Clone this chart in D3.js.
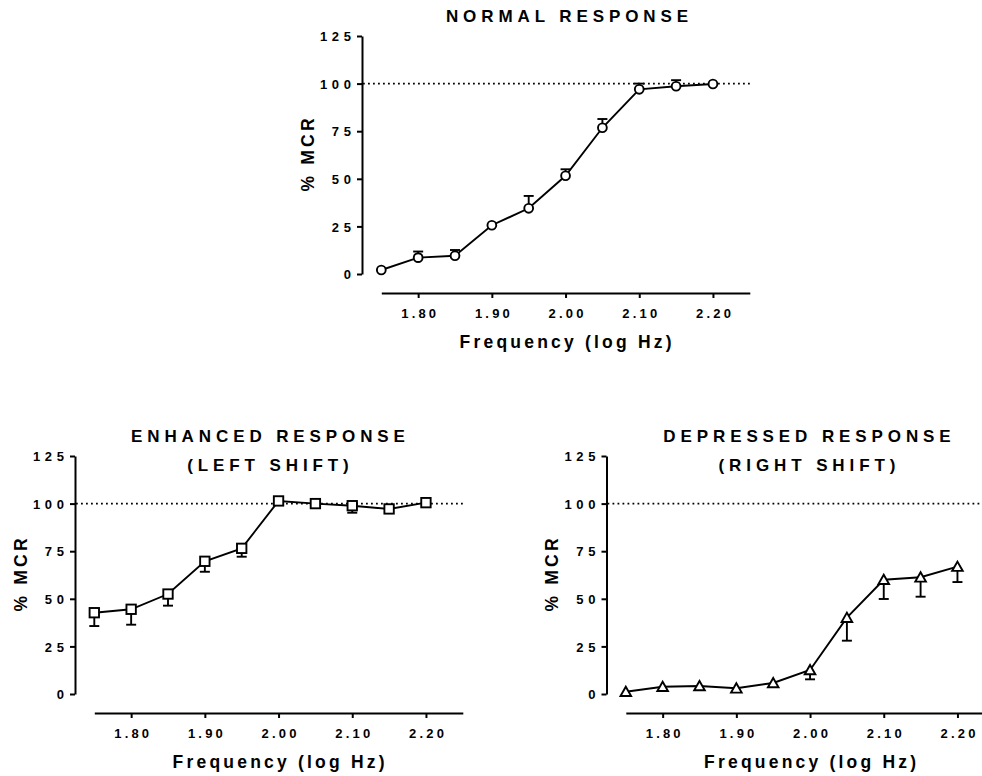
<!DOCTYPE html>
<html>
<head>
<meta charset="utf-8">
<script src="https://cdn.jsdelivr.net/npm/d3@7"></script>
<style>
  body { margin: 0; background: #fff; }
  text { font-family: "Liberation Sans", Arial, sans-serif; font-weight: bold; fill: #000; }
</style>
</head>
<body>
<svg id="chart" width="982" height="776"></svg>
<script>
// --- DATA ---
const freq = [1.75, 1.80, 1.85, 1.90, 1.95, 2.00, 2.05, 2.10, 2.15, 2.20];

// Normal response (error bars drawn upward)
const normalMean = [2.1, 8.6, 9.6, 25.6, 34.5, 51.6, 76.8, 97.0, 98.6, 99.8];
const normalErr  = [0, 3.2, 3.0, 0, 6.5, 3.4, 4.6, 3.0, 3.2, 0];

// Enhanced response / left shift (error bars drawn downward)
const enhancedMean = [42.7, 44.5, 52.5, 69.7, 76.5, 101.4, 100.0, 98.9, 97.2, 100.5];
const enhancedErr  = [7.0, 8.1, 6.1, 5.5, 4.4, 0, 0, 3.7, 0, 0];

// Depressed response / right shift (error bars drawn downward)
const depressedMean = [1.2, 3.8, 4.2, 3.0, 5.8, 12.6, 40.1, 60.0, 61.3, 66.9];
const depressedErr  = [0, 0, 0, 0, 0, 4.9, 12.1, 10.1, 10.2, 8.1];

const yTicks = [0, 25, 50, 75, 100, 125];
const xTicks = [1.80, 1.90, 2.00, 2.10, 2.20];
const xDomain = [1.75, 2.25];
const yDomain = [0, 125];
const refValue = 100;
const xLabel = "Frequency (log Hz)";
const yLabel = "% MCR";

// --- LAYOUT ---
const panels = [
    { title: ["NORMAL RESPONSE"], mean: normalMean, err: normalErr, dir: 1, marker: "circle", ox: 362, oy: 274, tx: 567 },
    { title: ["ENHANCED RESPONSE", "(LEFT SHIFT)"], mean: enhancedMean, err: enhancedErr, dir: -1, marker: "square", ox: 75, oy: 694, tx: 268 },
    { title: ["DEPRESSED RESPONSE", "(RIGHT SHIFT)"], mean: depressedMean, err: depressedErr, dir: -1, marker: "triangle", ox: 606.5, oy: 694, tx: 807 }
];

const svg = d3.select("#chart");
const plotH = 238, xGap = 19.3, xLen = 368.5, xAxisGap = 19;
const tickFont = 13, tickLs = 4.6, xTickLs = 3.2;
const labelFont = 17.5, labelLs = 3.2;
const titleFont = 17, titleLs = 4.9;

function drawMarker(sel, type) {
    if (type === "circle") {
        sel.append("circle").attr("r", 4.4);
    } else if (type === "square") {
        sel.append("rect").attr("x", -4.7).attr("y", -4.7).attr("width", 9.4).attr("height", 9.4);
    } else {
        sel.append("path").attr("d", "M0,-5L5.3,4.3L-5.3,4.3Z");
    }
}

function drawPanel(p) {
    const g = svg.append("g").attr("transform", `translate(${p.ox},${p.oy})`);
    const x = d3.scaleLinear().domain(xDomain).range([xGap, xGap + xLen]);
    const y = d3.scaleLinear().domain(yDomain).range([0, -plotH]);
    const pts = freq.map((f, i) => ({ f, v: p.mean[i], e: p.err[i] }));

    // axes
    const ya = g.append("g")
        .call(d3.axisLeft(y).tickValues(yTicks).tickSize(5).tickSizeOuter(0).tickPadding(1.5));
    const xa = g.append("g").attr("transform", `translate(0,${xAxisGap})`)
        .call(d3.axisBottom(x).tickValues(xTicks).tickFormat(d3.format(".2f"))
            .tickSize(5).tickSizeOuter(0).tickPadding(10.5));
    [ya, xa].forEach(a => {
        a.attr("font-family", null).attr("font-size", null);
        a.select(".domain").attr("stroke-width", 2);
        a.selectAll(".tick line").attr("stroke-width", 2);
        a.selectAll(".tick text").style("font-size", tickFont + "px");
    });
    ya.selectAll(".tick text").style("letter-spacing", tickLs + "px").attr("dy", "0.36em");
    xa.selectAll(".tick text").style("letter-spacing", xTickLs + "px").attr("dx", xTickLs / 2);

    // dotted reference line
    g.append("line")
        .attr("x1", 1).attr("x2", x.range()[1])
        .attr("y1", y(refValue)).attr("y2", y(refValue))
        .attr("stroke", "#000").attr("stroke-width", 1.6)
        .attr("stroke-dasharray", "1.8,3.2");

    // error bars
    const eb = g.append("g").attr("stroke", "#000").attr("stroke-width", 1.9);
    pts.filter(d => d.e > 0).forEach(d => {
        const yEnd = y(d.v + p.dir * d.e);
        eb.append("line").attr("x1", x(d.f)).attr("x2", x(d.f)).attr("y1", y(d.v)).attr("y2", yEnd);
        eb.append("line").attr("x1", x(d.f) - 5).attr("x2", x(d.f) + 5).attr("y1", yEnd).attr("y2", yEnd);
    });

    // connecting line
    g.append("path").datum(pts)
        .attr("fill", "none").attr("stroke", "#000").attr("stroke-width", 1.9)
        .attr("d", d3.line().x(d => x(d.f)).y(d => y(d.v)));

    // markers
    g.selectAll(".mk").data(pts).enter().append("g")
        .attr("class", "mk")
        .attr("transform", d => `translate(${x(d.f)},${y(d.v)})`)
        .attr("fill", "#fff").attr("stroke", "#000").attr("stroke-width", 1.9)
        .each(function () { drawMarker(d3.select(this), p.marker); });

    // titles
    p.title.forEach((t, i) => {
        svg.append("text")
            .attr("x", p.tx + titleLs / 2).attr("y", p.oy - 252.3 + i * 29.5)
            .attr("text-anchor", "middle")
            .style("font-size", titleFont + "px").style("letter-spacing", titleLs + "px")
            .text(t);
    });

    // axis labels
    g.append("text")
        .attr("x", (x.range()[0] + x.range()[1]) / 2 + labelLs / 2).attr("y", xAxisGap + 54.5)
        .attr("text-anchor", "middle")
        .style("font-size", labelFont + "px").style("letter-spacing", labelLs + "px")
        .text(xLabel);
    g.append("text")
        .attr("transform", `translate(-48.5,${-plotH / 2}) rotate(-90)`)
        .attr("dx", labelLs / 2)
        .attr("text-anchor", "middle")
        .style("font-size", labelFont + "px").style("letter-spacing", labelLs + "px")
        .text(yLabel);
}

panels.forEach(drawPanel);
</script>
</body>
</html>
